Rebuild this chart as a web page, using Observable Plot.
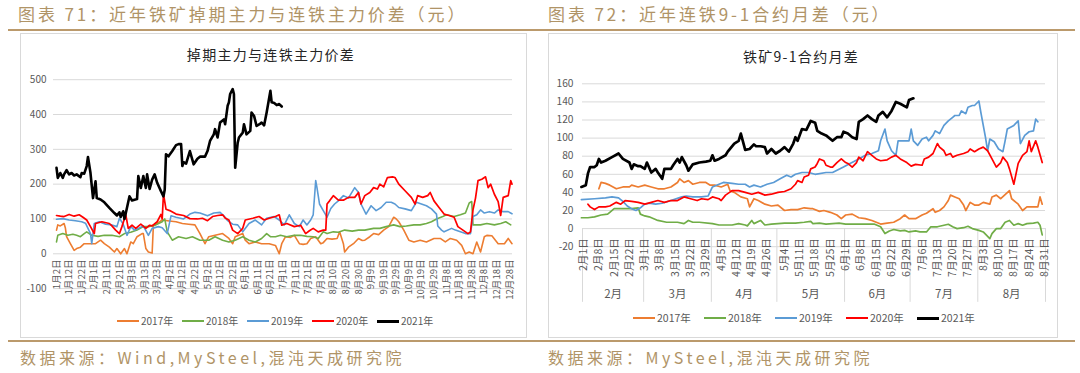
<!DOCTYPE html>
<html><head><meta charset="utf-8">
<script src="https://cdn.jsdelivr.net/npm/d3@7"></script>
<script src="https://cdn.jsdelivr.net/npm/@observablehq/plot@0.6"></script>
<style>
body{margin:0;background:#fff;width:1080px;height:373px;position:relative;overflow:hidden;font-family:"Noto Sans CJK SC","Noto Sans",sans-serif;}
.abs{position:absolute}
.htitle{color:#b09467;font-size:17px;letter-spacing:2.9px;white-space:nowrap;top:4px;line-height:20px}
.rule{background:#bb9a6c;height:2px;left:8px;width:1067px}
.frame{border:1px solid #d9d9d9;box-sizing:border-box;}
.ctitle{font-size:14px;color:#262626;letter-spacing:1.3px;white-space:nowrap;transform:translateX(-50%);line-height:18px}
.leg{font-size:10px;color:#595959;white-space:nowrap;line-height:14px}
.leg .it{position:absolute;top:0;display:flex;align-items:center}
.leg .sw{display:inline-block;width:22px;height:2px;margin-right:2px}
.foot{color:#b09467;font-size:16px;letter-spacing:3.5px;top:347px;white-space:nowrap;line-height:20px}
svg{overflow:visible}
</style>
</head><body>
<div class="abs htitle" style="left:18px">图表 71：近年铁矿掉期主力与连铁主力价差（元）</div>
<div class="abs htitle" style="left:548px">图表 72：近年连铁9-1合约月差（元）</div>
<div class="abs rule" style="top:29px"></div>
<div class="abs frame" style="left:20px;top:33px;width:507px;height:305px"></div>
<div class="abs frame" style="left:548px;top:33px;width:510px;height:305px"></div>
<div class="abs ctitle" style="left:271px;top:45px">掉期主力与连铁主力价差</div>
<div class="abs ctitle" style="left:801px;top:47px">铁矿9-1合约月差</div>
<div id="c1" class="abs" style="left:20px;top:32px"></div>
<div id="c2" class="abs" style="left:548px;top:32px"></div>
<div id="l1" class="abs leg" style="left:117px;top:314px"></div>
<div id="l2" class="abs leg" style="left:633px;top:311px;font-size:10.5px"></div>
<div class="abs rule" style="top:340px"></div>
<div class="abs foot" style="left:20px">数据来源：Wind,MySteel,混沌天成研究院</div>
<div class="abs foot" style="left:548px">数据来源：MySteel,混沌天成研究院</div>
<script>
// ---------- Chart 1: swap main minus DCE main spread (x = day of year) ----------
const years = ["2017年","2018年","2019年","2020年","2021年"];
const colors = ["#ED7D31","#70AD47","#5B9BD5","#FF0000","#000000"];

const spread2017 = [[2,68],[3,83],[5,80],[8,87],[9,75],[10,49],[13,29],[16,10],[18,15],[21,19],[24,29],[28,29],[33,29],[37,39],[40,29],[44,19],[48,5],[50,15],[53,0],[56,15],[58,0],[61,34],[63,29],[66,49],[70,58],[71,58],[73,15],[75,5],[78,2],[79,83],[82,87],[86,97],[90,95],[97,92],[102,87],[107,85],[112,83],[116,58],[120,29],[123,49],[128,53],[134,58],[139,44],[142,29],[144,49],[150,58],[152,39],[155,29],[160,34],[165,29],[171,29],[176,24],[179,0],[181,29],[184,49],[188,47],[191,53],[195,29],[198,27],[201,29],[204,44],[208,49],[212,29],[214,32],[217,44],[221,42],[225,44],[227,63],[230,29],[231,5],[234,19],[238,29],[242,44],[245,38],[247,39],[251,49],[254,58],[258,55],[262,68],[266,78],[270,105],[272,100],[274,92],[278,68],[282,39],[286,34],[291,39],[296,34],[302,44],[307,44],[311,34],[315,44],[320,39],[324,24],[327,0],[330,5],[333,0],[336,34],[339,5],[342,49],[344,53],[348,52],[353,29],[358,29],[361,44],[364,29]];
const spread2018 = [[2,34],[3,53],[7,58],[11,53],[15,56],[18,53],[21,49],[24,58],[26,63],[30,53],[35,50],[40,53],[46,53],[52,49],[56,58],[61,62],[66,68],[71,78],[75,78],[81,83],[86,92],[88,100],[90,63],[94,39],[99,49],[105,44],[110,49],[116,39],[123,39],[128,49],[134,39],[139,34],[144,39],[150,49],[155,39],[160,34],[165,44],[169,58],[172,49],[176,49],[180,53],[185,49],[191,53],[196,53],[201,50],[206,49],[210,44],[214,63],[217,58],[222,63],[226,62],[231,68],[237,65],[242,68],[247,68],[254,73],[259,73],[264,78],[270,83],[275,78],[280,80],[286,83],[291,83],[296,87],[300,92],[304,100],[309,107],[312,112],[318,107],[323,112],[327,117],[330,146],[332,150],[333,83],[339,83],[344,87],[350,83],[355,87],[359,92],[363,83]];
const spread2019 = [[2,99],[7,101],[12,97],[17,95],[22,92],[25,88],[29,58],[30,29],[32,87],[36,92],[41,85],[46,83],[50,78],[52,102],[55,85],[58,53],[61,78],[64,68],[67,73],[71,80],[75,53],[78,73],[83,78],[86,75],[90,58],[93,109],[97,105],[103,100],[108,114],[112,119],[116,117],[122,109],[127,117],[132,119],[135,109],[138,95],[140,90],[142,85],[146,83],[150,63],[155,87],[160,97],[165,83],[169,102],[175,107],[179,97],[183,83],[187,112],[191,87],[195,78],[198,97],[201,83],[204,97],[206,112],[208,210],[209,190],[211,143],[214,124],[217,105],[220,130],[223,143],[226,152],[230,167],[234,160],[239,190],[242,176],[244,143],[248,114],[252,138],[256,124],[260,133],[264,148],[268,148],[271,143],[274,133],[279,129],[284,124],[288,148],[292,143],[296,138],[300,129],[304,114],[305,80],[308,68],[310,63],[316,73],[319,68],[323,63],[327,58],[331,58],[333,107],[336,112],[339,126],[342,117],[346,121],[350,117],[353,126],[357,121],[361,121],[364,115]];
const spread2020 = [[2,110],[5,108],[8,107],[12,113],[16,108],[20,112],[23,105],[26,97],[29,78],[32,58],[33,87],[36,90],[38,92],[44,87],[46,80],[49,68],[52,58],[54,78],[57,113],[59,73],[62,82],[65,73],[69,85],[73,73],[76,82],[78,80],[82,92],[85,113],[86,100],[87,172],[89,128],[92,124],[97,114],[103,110],[108,101],[114,100],[118,102],[122,95],[126,107],[130,110],[134,112],[136,103],[139,97],[142,68],[146,58],[150,73],[152,97],[158,102],[163,107],[167,97],[171,102],[176,107],[179,112],[181,82],[185,87],[191,78],[196,82],[200,58],[203,66],[206,73],[210,63],[214,68],[216,68],[217,143],[219,152],[222,167],[226,154],[230,154],[234,162],[239,162],[242,176],[244,143],[247,167],[251,176],[254,190],[257,186],[259,200],[262,192],[265,219],[269,221],[271,219],[274,200],[279,181],[284,162],[287,143],[289,167],[293,162],[297,167],[299,176],[302,152],[306,133],[310,114],[314,110],[318,105],[321,78],[325,68],[329,58],[331,63],[333,126],[335,160],[337,210],[340,214],[343,221],[345,190],[347,200],[350,171],[353,150],[355,110],[357,162],[361,167],[363,210],[364,200]];
const spread2021 = [[2,247],[3,218],[5,232],[7,218],[8,228],[10,240],[12,228],[14,232],[16,225],[18,228],[21,220],[22,232],[24,230],[26,252],[27,278],[29,232],[31,160],[33,208],[34,160],[37,156],[40,148],[44,132],[48,117],[50,110],[52,119],[53,106],[55,122],[56,100],[58,132],[60,165],[62,153],[66,157],[67,223],[69,189],[71,223],[73,189],[74,228],[76,186],[78,213],[80,228],[82,204],[85,180],[87,165],[88,184],[89,286],[91,280],[94,295],[97,312],[99,315],[101,315],[102,252],[103,263],[105,259],[108,295],[111,257],[114,273],[116,279],[120,279],[122,295],[124,324],[127,343],[128,358],[130,334],[132,377],[135,386],[136,372],[138,425],[139,435],[140,459],[142,473],[143,459],[144,247],[146,319],[147,334],[150,348],[151,372],[153,343],[156,353],[157,406],[159,396],[161,367],[164,374],[165,377],[167,369],[169,406],[172,468],[173,435],[175,433],[177,427],[179,430],[181,423]];

const spreadTicksY = [500,400,300,200,100,0,-100];
const spreadDateLabels = ["1月2日","1月12日","1月22日","2月1日","2月11日","2月21日","3月3日","3月13日","3月23日","4月2日","4月12日","4月22日","5月2日","5月12日","5月22日","6月1日","6月11日","6月21日","7月1日","7月11日","7月21日","7月31日","8月10日","8月20日","8月30日","9月9日","9月19日","9月29日","10月9日","10月19日","10月29日","11月8日","11月18日","11月28日","12月8日","12月18日","12月28日"];

// ---------- Chart 2: DCE iron ore 9-1 spread (x = day of year) ----------
const calendar2017 = [[39,44],[40,51],[42,50],[44,48],[47,44],[50,46],[53,46],[54,48],[57,46],[60,48],[63,46],[66,44],[69,44],[72,46],[75,51],[76,55],[78,51],[80,53],[82,49],[85,51],[88,51],[90,48],[92,48],[95,46],[98,49],[99,42],[101,40],[104,35],[107,33],[108,24],[110,33],[112,31],[115,27],[118,25],[121,26],[124,20],[127,21],[130,21],[133,23],[136,22],[137,22],[140,19],[142,20],[145,18],[148,15],[150,11],[152,15],[155,16],[158,12],[161,11],[164,9],[168,5],[171,6],[174,7],[177,11],[179,15],[181,11],[184,11],[187,15],[189,17],[192,22],[193,18],[195,20],[197,24],[199,31],[200,37],[202,35],[204,33],[206,26],[207,20],[209,29],[211,26],[213,26],[215,29],[218,27],[219,35],[221,37],[223,33],[227,42],[228,33],[231,27],[233,20],[235,24],[238,24],[240,24],[241,35],[242,27]];
const calendar2018 = [[31,12],[34,12],[37,13],[40,15],[43,16],[44,18],[46,22],[50,22],[54,22],[57,23],[58,16],[60,14],[62,13],[66,9],[70,7],[75,7],[78,5.5],[80,9],[82,7],[85,7],[91,5.5],[94,4],[100,4],[103,5.5],[106,4],[107,3],[109,9],[110,5.5],[113,9],[115,4],[118,5],[121,5.5],[124,6],[129,6],[133,7],[136,8],[137,5.5],[140,6],[143,5],[146,5.5],[149,6],[152,5],[158,5],[161,5],[165,5],[168,2],[170,-5.5],[172,-2.6],[174,-1],[177,-2.6],[179,-2],[181,-3.7],[184,-2.6],[186,-3.7],[189,-3.7],[191,2],[194,2],[197,3.7],[199,4.8],[201,2],[203,0],[206,1],[208,2.6],[210,0],[213,-2],[215,-3.7],[218,-11],[219,-5.5],[221,0],[223,0],[225,7],[227,9],[229,3.7],[231,5.5],[233,3.7],[235,5.5],[238,6],[240,7],[241,3.7],[242,-7]];
const calendar2019 = [[31,32],[37,33],[42,34],[45,35],[48,34],[50,30],[52,25],[54,22],[56,20],[58,23],[60,27],[62,28],[65,27],[68,28],[72,31],[77,35],[79,36],[82,35],[86,35],[89,36],[91,46],[94,49],[96,51],[100,50],[103,49],[106,49],[108,46],[110,48],[113,46],[116,49],[119,51],[122,55],[125,59],[127,57],[129,60],[132,62],[135,62],[138,60],[143,62],[146,62],[151,68],[154,72],[158,77],[161,81],[164,83],[167,86],[168,97],[170,110],[171,97],[173,86],[175,81],[176,97],[179,97],[181,97],[182,110],[183,97],[185,92],[187,99],[189,101],[190,97],[192,103],[193,108],[195,105],[197,114],[199,119],[201,123],[202,125],[204,125],[205,130],[207,127],[208,134],[210,136],[211,136],[213,141],[214,127],[216,101],[217,86],[218,99],[220,96],[222,88],[224,85],[225,97],[226,110],[229,114],[231,119],[232,94],[234,103],[236,107],[238,108],[239,121],[240,118]];
const calendar2020 = [[34,27],[35,24],[37,21],[39,24],[42,24],[44,25],[47,29],[49,27],[51,31],[54,30],[57,29],[60,27],[63,29],[66,31],[69,29],[72,31],[75,31],[78,35],[81,33],[84,31],[86,33],[89,32],[91,35],[94,33],[95,31],[97,37],[100,42],[103,42],[106,40],[109,38],[112,40],[115,37],[118,38],[121,40],[124,41],[127,44],[129,49],[130,53],[132,51],[133,57],[135,59],[136,66],[138,68],[139,72],[140,77],[142,75],[143,70],[145,68],[146,68],[148,73],[150,77],[152,73],[153,72],[155,68],[157,73],[158,79],[160,75],[162,85],[164,81],[166,77],[168,75],[171,76],[173,79],[175,81],[177,77],[180,73],[182,69],[184,71],[187,70],[188,77],[190,79],[192,83],[194,94],[195,90],[197,86],[198,81],[200,83],[201,79],[203,81],[206,83],[208,85],[209,88],[211,85],[213,88],[215,90],[217,86],[219,77],[221,68],[223,73],[224,79],[226,73],[227,66],[229,49],[231,72],[233,81],[235,85],[236,97],[237,85],[239,97],[240,90],[242,73]];
const calendar2021 = [[31,46],[33,48],[34,61],[35,68],[37,68],[38,70],[39,77],[40,73],[42,75],[45,79],[48,83],[50,77],[53,73],[54,66],[55,71],[57,69],[58,69],[60,66],[61,73],[63,62],[65,66],[66,62],[68,55],[69,66],[72,66],[73,70],[75,77],[76,73],[77,79],[79,70],[80,64],[82,71],[85,73],[88,74],[90,75],[91,81],[92,75],[94,77],[97,81],[98,85],[101,94],[103,97],[104,105],[106,87],[108,88],[110,93],[111,91],[113,91],[115,90],[116,83],[118,88],[120,83],[122,86],[124,90],[126,85],[128,94],[129,101],[130,97],[132,110],[134,109],[136,119],[138,117],[139,108],[141,105],[143,103],[146,97],[148,101],[150,101],[151,107],[153,105],[155,101],[157,99],[158,118],[160,121],[162,125],[164,121],[166,118],[167,125],[169,129],[171,123],[173,130],[175,140],[177,138],[180,134],[181,142],[183,144]];

const calendarTicksY = [160,140,120,100,80,60,40,20,0,-20];
const calendarDateLabels = ["2月1日","2月8日","2月15日","2月22日","3月1日","3月8日","3月15日","3月22日","3月29日","4月5日","4月12日","4月19日","4月26日","5月4日","5月11日","5月18日","5月25日","6月1日","6月8日","6月15日","6月22日","6月29日","7月6日","7月13日","7月20日","7月27日","8月3日","8月10日","8月17日","8月24日","8月31日"];
const calendarMonths = ["2月","3月","4月","5月","6月","7月","8月"];

// ---------- helpers ----------
const jan1 = new Date(2017,0,1);
function dayOfYear(label){const m=label.match(/(\d+)月(\d+)日/);return d3.timeDay.count(jan1,new Date(2017,+m[1]-1,+m[2]))+1;}
function monthStart(label){const m=+label.match(/(\d+)月/)[1];return d3.timeDay.count(jan1,new Date(2017,m-1,1))+1;}
const font = "'Noto Sans CJK SC','Noto Sans',sans-serif";
const grid = "#d9d9d9", tickText = "#595959";

function seriesMarks(list, widths){
  return list.map((s,i)=>Plot.line(s,{x:d=>d[0],y:d=>d[1],stroke:colors[i],strokeWidth:widths[i],strokeLinejoin:"round",strokeLinecap:"round"}));
}

// Chart 1
const c1 = Plot.plot({
  width:507,height:305,marginLeft:33,marginRight:15,marginTop:47.2,marginBottom:48.9,
  x:{domain:[-0.4,364.4],axis:null},
  y:{domain:[-100,500],axis:null},
  style:{fontFamily:font,background:"transparent",overflow:"visible"},
  marks:[
    Plot.ruleY(spreadTicksY,{stroke:grid,strokeWidth:1}),
    Plot.text(spreadTicksY,{x:-0.4,y:d=>d,text:d=>String(d),textAnchor:"end",dx:-7,fill:tickText,fontSize:10}),
    Plot.text(spreadDateLabels,{x:dayOfYear,y:-16,text:d=>d,rotate:-90,textAnchor:"end",fill:tickText,fontSize:9.6}),
    ...seriesMarks([spread2017,spread2018,spread2019,spread2020,spread2021],[1.6,1.6,1.6,1.7,2.6])
  ]
});
document.getElementById("c1").appendChild(c1);

// Chart 2
const bounds = calendarMonths.map(m=>monthStart(m)-0.5).concat([243.5]);
const mids = calendarMonths.map((m,i)=>({m, x:(bounds[i]+bounds[i+1])/2}));
const c2 = Plot.plot({
  width:510,height:305,marginLeft:34,marginRight:13,marginTop:51.3,marginBottom:90.8,
  x:{domain:[31.5,243.5],axis:null},
  y:{domain:[-20,160],axis:null},
  style:{fontFamily:font,background:"transparent",overflow:"visible"},
  marks:[
    Plot.ruleY(calendarTicksY,{stroke:grid,strokeWidth:1}),
    Plot.ruleX(bounds,{x:d=>d,y1:0,y2:-81.5,stroke:grid,strokeWidth:1}),
    Plot.text(calendarTicksY,{x:31.5,y:d=>d,text:d=>String(d),textAnchor:"end",dx:-9,fill:tickText,fontSize:10.2}),
    Plot.text(calendarDateLabels,{x:dayOfYear,y:-10.5,text:d=>d,rotate:-90,textAnchor:"end",fill:tickText,fontSize:10.6}),
    Plot.text(mids,{x:"x",y:-72.8,text:"m",fill:tickText,fontSize:11.5}),
    ...seriesMarks([calendar2017,calendar2018,calendar2019,calendar2020,calendar2021],[1.7,1.7,1.7,1.7,2.7])
  ]
});
document.getElementById("c2").appendChild(c2);

// Legends
function legend(id, stride){
  const el=document.getElementById(id);
  years.forEach((y,i)=>{
    const it=document.createElement("div");it.className="it";it.style.left=(i*stride)+"px";
    it.innerHTML=`<span class="sw" style="background:${colors[i]};height:${i==4?3:2}px"></span><span>${y}</span>`;
    el.appendChild(it);
  });
}
legend("l1",65);
legend("l2",71);
</script>
</body></html>
